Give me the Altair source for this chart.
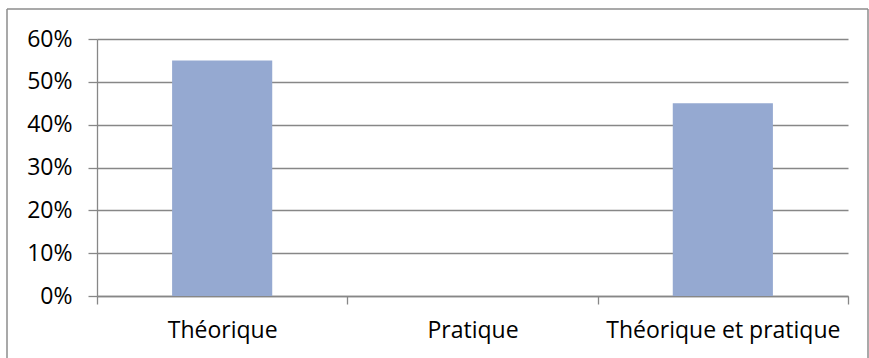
import altair as alt
import pandas as pd

categories = ["Théorique", "Pratique", "Théorique et pratique"]
values = [0.55, 0.0, 0.45]

df = pd.DataFrame({"cat": categories, "val": values})

GRAY = "#878787"
FONT = "Open Sans"

bars = alt.Chart(df).mark_bar(
    color="#95A9D1", width=alt.RelativeBandSize(0.4)
).encode(
    x=alt.X("cat:N", sort=categories, title=None,
            scale=alt.Scale(paddingInner=0, paddingOuter=0),
            axis=alt.Axis(labelAngle=0, tickBand="extent", tickSize=8,
                          domainColor=GRAY, tickColor=GRAY, domainWidth=1.3, tickWidth=1.3,
                          labelFont=FONT, labelFontSize=23, labelColor="#000000",
                          labelLimit=0, labelPadding=15, grid=False)),
    y=alt.Y("val:Q", title=None,
            scale=alt.Scale(domain=[0, 0.6]),
            axis=alt.Axis(format=".0%", values=[0, 0.1, 0.2, 0.3, 0.4, 0.5, 0.6],
                          tickSize=9, tickColor=GRAY, domainColor=GRAY,
                          domainWidth=1.3, tickWidth=1.3,
                          gridColor=GRAY, gridWidth=1.3,
                          labelFont=FONT, labelFontSize=23, labelColor="#000000",
                          labelLimit=0, labelPadding=16)),
)

# outer frame (left, top, right edges)
frame = alt.Chart(pd.DataFrame({"a": [0]})).mark_rule(color="#8C8C8C", strokeWidth=1.5).encode(
    x=alt.value(-90), y=alt.value(-30), y2=alt.value(330)
)
frame_r = alt.Chart(pd.DataFrame({"a": [0]})).mark_rule(color="#8C8C8C", strokeWidth=1.5).encode(
    x=alt.value(771), y=alt.value(-30), y2=alt.value(330)
)
frame_t = alt.Chart(pd.DataFrame({"a": [0]})).mark_rule(color="#8C8C8C", strokeWidth=1.5).encode(
    x=alt.value(-90), x2=alt.value(771), y=alt.value(-30)
)

chart = alt.layer(bars, frame, frame_r, frame_t).properties(
    width=751, height=257,
    autosize=alt.AutoSizeParams(type="none"),
    padding={"left": 97, "top": 39, "right": 21, "bottom": 62},
    background="#FFFFFF",
).configure_view(stroke=None)

chart.save("out.html", embed_options={"renderer": "svg", "actions": False})
